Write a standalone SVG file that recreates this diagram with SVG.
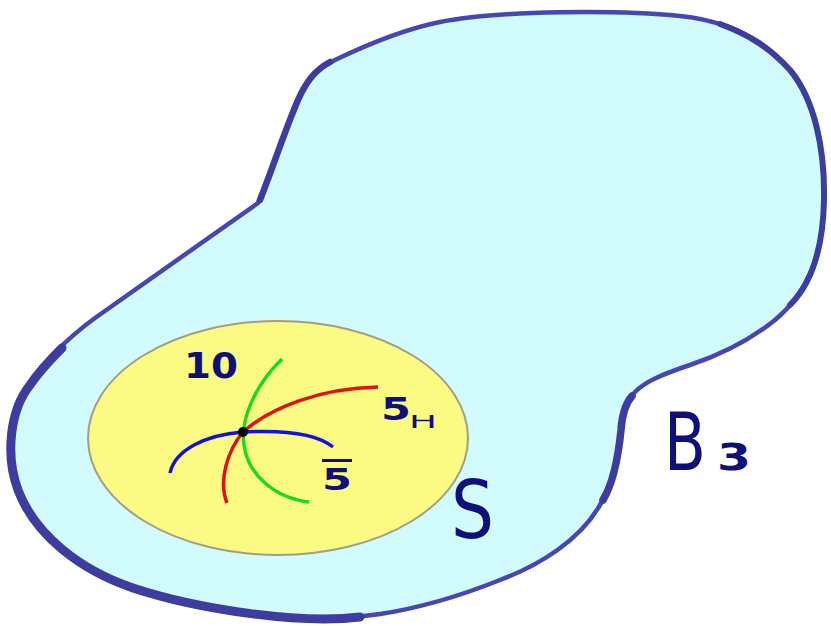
<svg xmlns="http://www.w3.org/2000/svg" width="831" height="626" viewBox="0 0 831 626">
<style>
.lbl{font-family:"DejaVu Sans","Liberation Sans",sans-serif;fill:#10107a;}
.sm{font-weight:bold;}
.curve{fill:none;stroke-width:3.5;stroke-linecap:butt;}
.thick{fill:none;stroke:#3d3da0;stroke-linecap:round;}
</style>
<rect width="831" height="626" fill="#ffffff"/>
<g id="B3">
<path d="M258,203 C272,170 285,130 298,100 C306,82 315,70 335,60 C360,48 400,30 440,22 C500,10 620,10 680,16 C720,20 760,35 790,70 C815,100 825,150 824,200 C823,260 805,295 775,320 C750,340 720,355 690,365 C660,375 645,382 635,392 C625,402 622,415 621,430 C618,460 612,485 600,505 C580,540 540,565 500,580 C460,596 420,608 380,614 C300,625 200,610 133,588 C80,570 35,535 18,490 C5,455 10,410 30,385 C45,360 65,340 95,318 L258,203 Z" fill="#d2fbfd" stroke="#4747b4" stroke-width="4.5" stroke-linejoin="round"/>
<path class="thick" stroke-width="6.5" d="M260,200 C272,170 285,130 298,100 C306,82 315,70 330,62"/>
<path class="thick" stroke-width="6" d="M720,24 C750,35 770,48 790,70 C815,100 825,150 824,200 C823,250 810,285 790,305"/>
<path class="thick" stroke-width="7.5" d="M632,396 C625,404 622,415 621,430 C618,460 612,485 603,500"/>
<path class="thick" stroke-width="9" d="M360,617 C300,624 200,610 133,588 C80,570 35,535 18,490 C5,455 10,410 30,385 C40,370 50,360 62,348"/>
<text class="lbl" x="664" y="470" font-size="80" textLength="42" lengthAdjust="spacingAndGlyphs">B</text>
<text class="lbl sm" x="717" y="470" font-size="38" textLength="34" lengthAdjust="spacingAndGlyphs">3</text>
</g>
<g id="S">
<ellipse cx="278" cy="438" rx="190" ry="117" fill="#fbfa82" stroke="#a39d85" stroke-width="2"/>
<text class="lbl" x="451" y="538" font-size="80" textLength="43" lengthAdjust="spacingAndGlyphs">S</text>
</g>
<g id="curves">
<path class="curve" stroke="#1ed81e" d="M282,359 C255,385 240,420 244,445 C248,475 275,498 309,502"/>
<path class="curve" stroke="#e01212" d="M378,387 C320,388 270,408 243,432 C228,450 218,480 227,503"/>
<path class="curve" stroke="#1212e0" d="M170,473 C175,450 205,435 243,432 C280,430 315,432 333,447"/>
<circle cx="243" cy="432" r="5" fill="#000"/>
</g>
<g id="labels">
<text class="lbl sm" x="184" y="378" font-size="35" textLength="54" lengthAdjust="spacingAndGlyphs">10</text>
<text class="lbl sm" x="381" y="420" font-size="32" textLength="30" lengthAdjust="spacingAndGlyphs">5</text>
<text class="lbl" x="409" y="428" font-size="18" textLength="28" lengthAdjust="spacingAndGlyphs">H</text>
<text class="lbl sm" x="322" y="490" font-size="30" textLength="30" lengthAdjust="spacingAndGlyphs" text-decoration="overline" style="text-decoration:overline">5</text>
</g>
</svg>
